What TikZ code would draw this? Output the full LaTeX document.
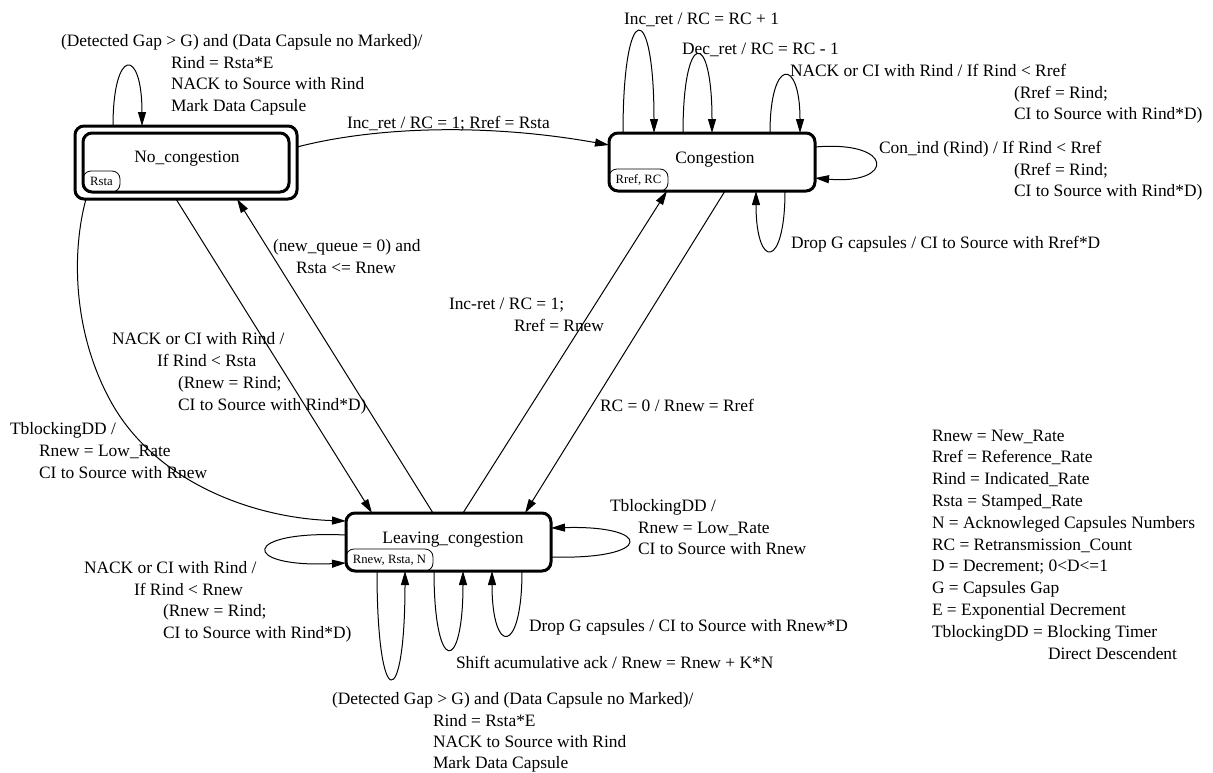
\documentclass[tikz,border=0pt]{standalone}
\usepackage{fontspec}
\setmainfont{Liberation Serif}
\usetikzlibrary{arrows.meta,calc}
\begin{document}
\begin{tikzpicture}[x=1pt,y=-1pt,
  lbl/.style={anchor=base west, inner sep=0pt, outer sep=0pt, font=\fontsize{17.4}{21}\selectfont},
  boxtext/.style={anchor=base, inner sep=0pt, font=\fontsize{17.4}{21}\selectfont},
  statebox/.style={draw, line width=3pt, rounded corners=9pt, inner sep=0pt, outer sep=0pt},
  tagbox/.style={draw, line width=0.8pt, rounded corners=8pt, inner sep=0pt, outer sep=0pt, anchor=south west, font=\fontsize{12.7}{14}\selectfont},
  conn/.style={line width=1pt, -{Triangle[length=14pt,width=8pt]}},
]
\useasboundingbox (0,0) rectangle (1213,772);

% states
\node[statebox, minimum width=222pt, minimum height=73pt] (ncout) at (186,162.5) {};
\node[statebox, minimum width=206pt, minimum height=59pt] (ncin) at (186,162.5) {};
\node[boxtext] (nct) at (187,162) {No\_congestion};
\node[tagbox, minimum width=37pt, minimum height=21pt] (nctag) at (ncin.south west) {Rsta};

\node[statebox, minimum width=206pt, minimum height=58pt] (cong) at (712,162) {};
\node[boxtext] (congt) at (715,163) {Congestion};
\node[tagbox, minimum width=59pt, minimum height=22pt] (congtag) at (cong.south west) {Rref, RC};

\node[statebox, minimum width=205pt, minimum height=58pt] (leave) at (448.5,542) {};
\node[boxtext] (leavet) at (453,543) {Leaving\_congestion};
\node[tagbox, minimum width=87pt, minimum height=22pt] (leavetag) at (leave.south west) {Rnew, Rsta, N};

% No_congestion self loop
\draw[conn] ($(ncout.north west)+(38,0)$) .. controls +(0,-79) and +(0,-79) .. ($(ncout.north west)+(67,0)$);
% No_congestion -> Congestion
\draw[conn] ($(ncout.north east)+(0,21)$) .. controls +(73,-19) and +(-129,-23) .. ($(cong.north west)+(0,12)$);

% Congestion self loops
\draw[conn] ($(cong.north west)+(14,0)$) .. controls +(0,-135) and +(0,-135) .. ($(cong.north west)+(45,0)$);
\draw[conn] ($(cong.north west)+(74,0)$) .. controls +(0,-104) and +(0,-104) .. ($(cong.north west)+(103,0)$);
\draw[conn] ($(cong.north west)+(161,0)$) .. controls +(0,-76) and +(0,-76) .. ($(cong.north west)+(191,0)$);
\draw[conn] ($(cong.north east)+(0,14)$) .. controls +(80,-7) and +(80,7) .. ($(cong.north east)+(0,45)$);
\draw[conn] ($(cong.south west)+(176,0)$) .. controls +(0,79) and +(0,79) .. ($(cong.south west)+(147,0)$);

% straight connectors
\draw[conn] ($(ncout.south west)+(101,0)$) -- ($(leave.north west)+(26,0)$);
\draw[conn] ($(leave.north west)+(87,0)$) -- ($(ncout.south west)+(162,0)$);
\draw[conn] ($(leave.north west)+(117,0)$) -- ($(cong.south west)+(58,0)$);
\draw[conn] ($(cong.south west)+(116,0)$) -- ($(leave.north west)+(179,0)$);

% TblockingDD curve
\coordinate (tbmid) at (110,400);
\draw[conn] ($(ncout.south west)+(11,0)$) .. controls +(-14,51) and (72,330) .. (tbmid)
  .. controls (153,480) and (250,518) .. ($(leave.north west)+(0,8)$);

% Leaving self loops
\draw[conn] ($(leave.north west)+(0,22)$) .. controls +(-106,-5) and +(-106,5) .. ($(leave.north west)+(0,50)$);
\draw[conn] ($(leave.north east)+(0,44)$) .. controls +(103,3) and +(103,-3) .. ($(leave.north east)+(0,15)$);
\draw[conn] ($(leave.south west)+(31,0)$) .. controls +(0,143) and +(0,143) .. ($(leave.south west)+(59,0)$);
\draw[conn] ($(leave.south west)+(88,0)$) .. controls +(0,104) and +(0,104) .. ($(leave.south west)+(117,0)$);
\draw[conn] ($(leave.south west)+(176,0)$) .. controls +(0,85) and +(0,85) .. ($(leave.south west)+(146,0)$);

% labels
\node[lbl] (t1a) at (61,46) {(Detected Gap > G) and (Data Capsule no Marked)/};
\node[lbl] (t1b) at (171,68) {Rind = Rsta*E};
\node[lbl] (t1c) at (171,89) {NACK to Source with Rind};
\node[lbl] (t1d) at (171,111) {Mark Data Capsule};
\node[lbl] (t2) at (347,128) {Inc\_ret / RC = 1; Rref = Rsta};
\node[lbl] (t3) at (624,24) {Inc\_ret / RC = RC + 1};
\node[lbl] (t4) at (682,54) {Dec\_ret / RC = RC - 1};
\node[lbl] (t5a) at (790,76) {NACK or CI with Rind / If Rind < Rref};
\node[lbl] (t5b) at (1014,98) {(Rref = Rind;};
\node[lbl] (t5c) at (1014,119) {CI to Source with Rind*D)};
\node[lbl] (t6a) at (879,153) {Con\_ind (Rind) / If Rind < Rref};
\node[lbl] (t6b) at (1014,175) {(Rref = Rind;};
\node[lbl] (t6c) at (1014,196) {CI to Source with Rind*D)};
\node[lbl] (t7) at (791,248) {Drop G capsules / CI to Source with Rref*D};
\node[lbl] (t8a) at (273,251) {(new\_queue = 0) and};
\node[lbl] (t8b) at (296,273) {Rsta <= Rnew};
\node[lbl] (t9a) at (449,309) {Inc-ret / RC = 1;};
\node[lbl] (t9b) at (514,331) {Rref = Rnew};
\node[lbl] (t10a) at (112,344) {NACK or CI with Rind /};
\node[lbl] (t10b) at (157,366) {If Rind < Rsta};
\node[lbl] (t10c) at (178,388) {(Rnew = Rind;};
\node[lbl] (t10d) at (178,410) {CI to Source with Rind*D)};
\node[lbl] (t11) at (600,411) {RC = 0 / Rnew = Rref};
\node[lbl] (t12a) at (10,434) {TblockingDD /};
\node[lbl] (t12b) at (39,456) {Rnew = Low\_Rate};
\node[lbl] (t12c) at (39,478) {CI to Source with Rnew};
\node[lbl] (t13a) at (610,511) {TblockingDD /};
\node[lbl] (t13b) at (638,533) {Rnew = Low\_Rate};
\node[lbl] (t13c) at (638,554) {CI to Source with Rnew};
\node[lbl] (t14a) at (84,573) {NACK or CI with Rind /};
\node[lbl] (t14b) at (134,595) {If Rind < Rnew};
\node[lbl] (t14c) at (163,616) {(Rnew = Rind;};
\node[lbl] (t14d) at (163,638) {CI to Source with Rind*D)};
\node[lbl] (t15) at (529,631) {Drop G capsules / CI to Source with Rnew*D};
\node[lbl] (t16) at (456,668) {Shift acumulative ack / Rnew = Rnew + K*N};
\node[lbl] (t17a) at (332,704) {(Detected Gap > G) and (Data Capsule no Marked)/};
\node[lbl] (t17b) at (433,726) {Rind = Rsta*E};
\node[lbl] (t17c) at (433,747) {NACK to Source with Rind};
\node[lbl] (t17d) at (433,768) {Mark Data Capsule};

% legend
\node[lbl] (g1) at (932,441) {Rnew = New\_Rate};
\node[lbl] (g2) at (932,462.8) {Rref = Reference\_Rate};
\node[lbl] (g3) at (932,484.6) {Rind = Indicated\_Rate};
\node[lbl] (g4) at (932,506.4) {Rsta = Stamped\_Rate};
\node[lbl] (g5) at (932,528.2) {N = Acknowleged Capsules Numbers};
\node[lbl] (g6) at (932,550) {RC = Retransmission\_Count};
\node[lbl] (g7) at (932,571.8) {D = Decrement; 0<D<=1};
\node[lbl] (g8) at (932,593.6) {G = Capsules Gap};
\node[lbl] (g9) at (932,615.4) {E = Exponential Decrement};
\node[lbl] (g10) at (932,637.2) {TblockingDD = Blocking Timer};
\node[lbl] (g11) at (1048,659) {Direct Descendent};
\end{tikzpicture}
\end{document}
